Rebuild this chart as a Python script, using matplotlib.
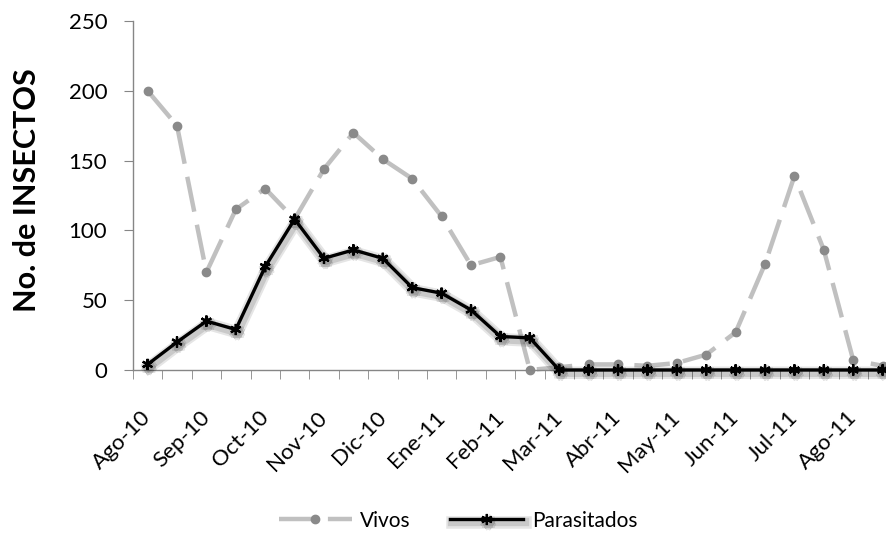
import matplotlib
matplotlib.use("Agg")
import matplotlib.pyplot as plt
import matplotlib.patheffects as pe
import numpy as np

# biweekly samples, Aug 2010 - Aug 2011
month_labels = ['Ago-10', 'Sep-10', 'Oct-10', 'Nov-10', 'Dic-10', 'Ene-11', 'Feb-11',
                'Mar-11', 'Abr-11', 'May-11', 'Jun-11', 'Jul-11', 'Ago-11']
vivos = [200, 175, 70, 115, 130, 108, 144, 170, 151, 137, 110, 75, 81,
         0, 2, 4, 4, 3, 5, 11, 27, 76, 139, 86, 7, 3]
parasitados = [4, 20, 35, 29, 74, 108, 80, 86, 80, 59, 55, 43, 24,
               23, 0, 0, 0, 0, 0, 0, 0, 0, 0, 0, 0, 0]

plt.rcParams['font.family'] = ['Lato', 'DejaVu Sans']
axis_grey = '#868686'

fig = plt.figure(figsize=(8.86, 5.38), dpi=100)
# right edge runs past the figure, the original is cut off there
ax = fig.add_axes([0.150, 0.3123, 0.8628, 0.6487])

x = np.arange(len(vivos))

ax.plot(x, vivos, color='#c0c0c0', lw=3.2, dashes=(8, 3),
        marker='o', ms=6, mfc='#8a8a8a', mec='#8a8a8a',
        label='Vivos', clip_on=False, zorder=2)

shadow = [pe.SimpleLineShadow(offset=(1, -2), shadow_color='k', alpha=0.10, linewidth=9),
          pe.SimpleLineShadow(offset=(1, -2), shadow_color='k', alpha=0.12, linewidth=6),
          pe.Normal()]
ax.plot(x, parasitados, color='black', lw=2.4,
        marker=(6, 2, 0), ms=8, mew=1.6, mec='black',
        label='Parasitados', clip_on=False, zorder=3, path_effects=shadow)

ax.set_xlim(-0.5, len(vivos) - 0.5)
ax.set_ylim(0, 250)
ax.set_yticks(range(0, 251, 50))

ax.set_xticks(x[::2])
ax.set_xticklabels(month_labels, rotation=45, ha='right', va='center',
                   rotation_mode='anchor', fontsize=16)
ax.set_xticks(np.arange(-0.5, len(vivos), 1), minor=True)
ax.tick_params(axis='x', which='major', length=0, pad=32)
ax.tick_params(axis='x', which='minor', length=6.5, color=axis_grey, direction='out')
ax.tick_params(axis='y', length=6.5, color=axis_grey, pad=12, labelsize=16)

for side in ['top', 'right']:
    ax.spines[side].set_visible(False)
for side in ['left', 'bottom']:
    ax.spines[side].set_color(axis_grey)
    ax.spines[side].set_linewidth(1.0)

fig.text(0.030, 0.646, 'No. de INSECTOS', rotation=90, ha='center', va='center',
         fontsize=22, fontweight='bold')

fig.legend(loc='center', bbox_to_anchor=(0.517, 0.032), ncol=2, frameon=False,
           fontsize=15, handlelength=3.5, handletextpad=0.4, columnspacing=1.9)

fig.savefig('out.png', dpi=100)
